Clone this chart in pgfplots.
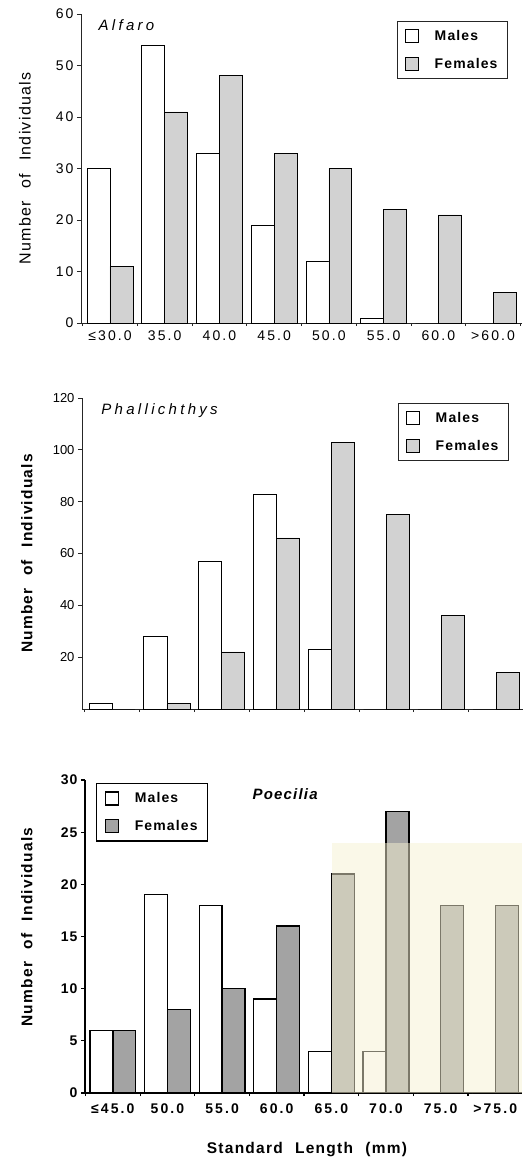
\documentclass[border=0pt]{standalone}
\usepackage{fontspec}
\setmainfont{Liberation Sans}
\newfontfamily\tickfont[LetterSpace=15]{Liberation Sans}
\newfontfamily\labfont[LetterSpace=8]{Liberation Sans}
\newfontfamily\specfont[LetterSpace=22]{Liberation Sans}
\usepackage{pgfplots}
\pgfplotsset{compat=1.18}

\definecolor{fem}{HTML}{D2D2D2}
\definecolor{femdark}{HTML}{A3A3A3}
\definecolor{scan}{HTML}{F6F1D2}

\pgfplotsset{
  fish/.style={
    scale only axis,
    width=441pt,
    ymin=0,
    axis x line*=bottom,
    axis y line*=left,
    tick align=outside,
    major tick length=4pt,
    minor tick length=3pt,
    xtick={0,...,7},
    minor xtick={-0.5,0.5,...,7.5},
    major x tick style={draw=none},
    ytick pos=left,
    /pgf/number format/assume math mode=true,
    legend cell align=left,
    legend image code/.code={\draw[##1] (0pt,-6.5pt) rectangle (13pt,6.5pt);},
  },
  males/.style={ybar, bar width=0.42, bar shift=-0.21, draw=black, fill=white},
  females/.style={ybar, bar width=0.42, bar shift=0.21, draw=black},
  fishlegend/.style={draw=black!85, inner xsep=8pt, inner ysep=7pt, row sep=12pt,
    /tikz/every odd column/.append style={column sep=14pt}},
}

\begin{document}
\begin{tikzpicture}
\useasboundingbox (0pt,0pt) rectangle (526pt,-1162pt);

% ---------- Alfaro ----------
\begin{axis}[fish,
  at={(81pt,-323pt)}, anchor=south west,
  height=309pt,
  xmin=-0.53, xmax=7.53, ymax=60,
  ytick={0,10,...,60},
  axis line style={line width=0.8pt, black!85},
  every tick/.style={line width=0.8pt, black!85},
  xticklabels={≤30.0,35.0,40.0,45.0,50.0,55.0,60.0,>60.0},
  ticklabel style={font=\tickfont\fontsize{14}{16}\selectfont},
  ylabel={Number\hspace{0.8em}of\hspace{0.8em}Individuals},
  ylabel style={at={(axis description cs:-0.127,0.5)}, anchor=center,
    font=\labfont\fontsize{16}{18}\selectfont},
  legend style={fishlegend, at={(0.968,0.977)}, anchor=north east,
    line width=0.8pt, font=\labfont\bfseries\fontsize{14}{16}\selectfont},
]
\addplot[males, line width=0.7pt] coordinates {
  (0,30) (1,54) (2,33) (3,19) (4,12) (5,1) (6,0) (7,0)};
\addplot[females, fill=fem, line width=0.7pt] coordinates {
  (0,11) (1,41) (2,48) (3,33) (4,30) (5,22) (6,21) (7,6)};
\legend{Males,Females}
\node[anchor=west, font=\specfont\itshape\fontsize{15}{17}\selectfont]
  at (axis description cs:0.032,0.964) {Alfaro};
\end{axis}

% ---------- Phallichthys ----------
\begin{axis}[fish,
  at={(82pt,-709pt)}, anchor=south west,
  height=311pt,
  xmin=-0.547, xmax=7.49, ymax=120,
  ytick={20,40,...,120},
  xticklabels={{},{},{},{},{},{},{},{}},
  axis line style={line width=0.8pt, black!85},
  every tick/.style={line width=0.8pt, black!85},
  yticklabel style={font=\fontsize{13}{15}\selectfont},
  ylabel={Number\hspace{0.8em}of\hspace{0.8em}Individuals},
  ylabel style={at={(axis description cs:-0.125,0.5)}, anchor=center,
    font=\labfont\bfseries\fontsize{15.5}{17}\selectfont},
  legend style={fishlegend, at={(0.968,0.984)}, anchor=north east,
    line width=0.8pt, font=\labfont\bfseries\fontsize{14}{16}\selectfont},
]
\addplot[males, line width=0.7pt] coordinates {
  (0,2) (1,28) (2,57) (3,83) (4,23) (5,0) (6,0) (7,0)};
\addplot[females, fill=fem, line width=0.7pt] coordinates {
  (0,0) (1,2) (2,22) (3,66) (4,103) (5,75) (6,36) (7,14)};
\legend{Males,Females}
\node[anchor=west, font=\specfont\itshape\fontsize{15}{17}\selectfont]
  at (axis description cs:0.036,0.961) {Phallichthys};
\end{axis}

% ---------- Poecilia ----------
\begin{axis}[fish,
  at={(85pt,-1093pt)}, anchor=south west,
  width=437pt, height=313pt,
  xmin=-0.51, xmax=7.49, ymax=30,
  ytick={0,5,...,30},
  axis line style={line width=1.2pt, black},
  every tick/.style={line width=1.2pt, black},
  xticklabels={≤45.0,50.0,55.0,60.0,65.0,70.0,75.0,>75.0},
  ticklabel style={font=\labfont\bfseries\fontsize{14}{16}\selectfont},
  xticklabel style={font=\tickfont\bfseries\fontsize{14}{16}\selectfont,
    yshift=-3pt},
  ylabel={Number\hspace{0.8em}of\hspace{0.8em}Individuals},
  ylabel style={at={(axis description cs:-0.133,0.53)}, anchor=center,
    font=\labfont\bfseries\fontsize{15.5}{17}\selectfont},
  xlabel={Standard\hspace{0.8em}Length\hspace{0.8em}(mm)},
  xlabel style={at={(axis description cs:0.508,-0.179)}, anchor=center,
    font=\labfont\bfseries\fontsize{15.5}{17}\selectfont},
  legend style={fishlegend, at={(0.025,0.990)}, anchor=north west, draw=black,
    line width=1.2pt, font=\labfont\bfseries\fontsize{14}{16}\selectfont},
]
\addplot[males, line width=1.3pt] coordinates {
  (0,6) (1,19) (2,18) (3,9) (4,4) (5,4) (6,0) (7,0)};
\addplot[females, fill=femdark, line width=1.3pt] coordinates {
  (0,6) (1,8) (2,10) (3,16) (4,21) (5,27) (6,18) (7,18)};
\legend{Males,Females}
\fill[scan, opacity=0.5] (axis cs:4.01,0) rectangle (axis cs:7.49,24);
\node[anchor=center, font=\labfont\bfseries\itshape\fontsize{15}{17}\selectfont]
  at (axis description cs:0.458,0.955) {Poecilia};
\end{axis}
\end{tikzpicture}
\end{document}
